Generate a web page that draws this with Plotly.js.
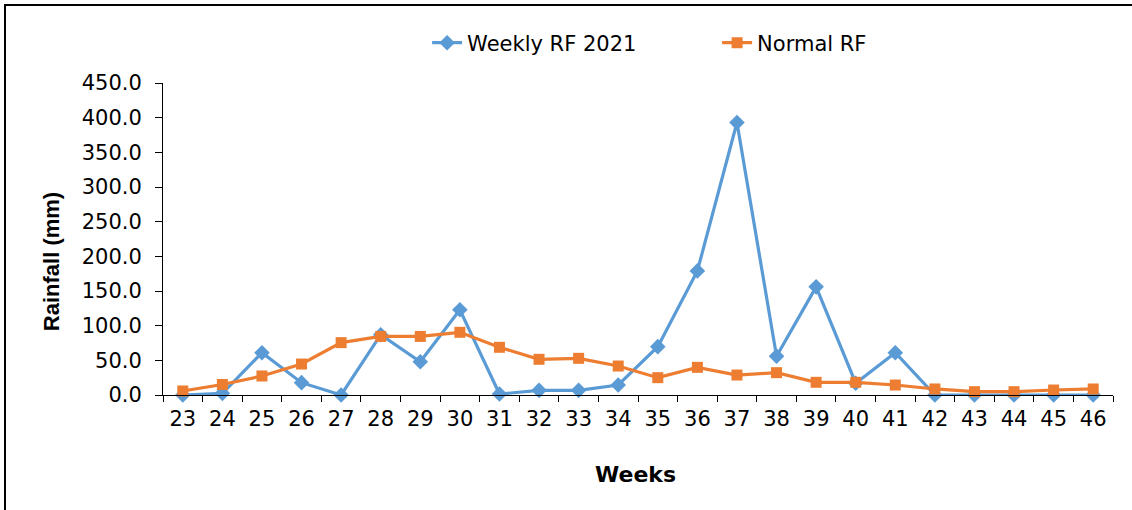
<!DOCTYPE html>
<html>
<head>
<meta charset="utf-8">
<script src="https://cdn.plot.ly/plotly-3.0.1.min.js"></script>
<style>
  html, body { margin: 0; padding: 0; background: #fff; }
  #frame { position: absolute; left: 4px; top: 4px; width: 1128px; height: 506px;
           border-top: 2px solid #000; border-left: 2px solid #000; box-sizing: border-box; pointer-events: none; }
  #chart { position: absolute; left: 0; top: 0; width: 1132px; height: 510px; }
</style>
</head>
<body>
<div id="chart"></div>
<div id="frame"></div>
<script>
const weeks = ["23","24","25","26","27","28","29","30","31","32","33","34","35","36","37","38","39","40","41","42","43","44","45","46"];
const weeklyRF2021 = [0, 2.4, 61, 17.8, 0, 87, 48, 123, 1.4, 6.7, 6.7, 14.4, 69.7, 179, 393, 56, 156, 17, 61, 0, 0, 0, 0, 0];
const normalRF = [5.8, 15.2, 27.4, 44.7, 75.5, 84.5, 84.5, 90.4, 68.8, 51.5, 52.9, 41.8, 25, 39.9, 28.8, 32.2, 18.3, 18.3, 14.4, 8.7, 4.8, 4.8, 7.2, 8.7];
const yTicks = [0, 50, 100, 150, 200, 250, 300, 350, 400, 450];
const xTitle = "Weeks";
const yTitle = "Rainfall (mm)";

const traces = [
  {
    x: weeks, y: weeklyRF2021, name: "Weekly RF 2021", type: "scatter", mode: "lines+markers",
    line: { color: "#5B9BD5", width: 3.2 },
    marker: { symbol: "diamond", size: 12, color: "#5B9BD5" },
    cliponaxis: false
  },
  {
    x: weeks, y: normalRF, name: "Normal RF", type: "scatter", mode: "lines+markers",
    line: { color: "#ED7D31", width: 3.2 },
    marker: { symbol: "square", size: 11, color: "#ED7D31" },
    cliponaxis: false
  }
];

const tickFont = { family: "DejaVu Sans, sans-serif", size: 21, color: "#000" };

const layout = {
  width: 1132, height: 510,
  margin: { l: 163, r: 19, t: 83, b: 115, autoexpand: false },
  paper_bgcolor: "#fff", plot_bgcolor: "#fff",
  font: { family: "DejaVu Sans, sans-serif", color: "#000", size: 20 },
  showlegend: true,
  legend: {
    orientation: "h", x: 0.278, xanchor: "left", y: 1.128, yanchor: "middle",
    font: { family: "DejaVu Sans, sans-serif", size: 21, color: "#000" },
    entrywidth: 245, entrywidthmode: "pixels", traceorder: "normal",
    bgcolor: "rgba(0,0,0,0)"
  },
  xaxis: {
    type: "category", range: [-0.5, 23.5], tickson: "boundaries", ticks: "outside", ticklen: 6, tickwidth: 1,
    tickcolor: "#000", showline: true, linecolor: "#000", linewidth: 1,
    showgrid: false, zeroline: false, tickfont: tickFont, ticklabelstandoff: 5,
    automargin: false
  },
  yaxis: {
    range: [0, 450], tickvals: yTicks, tickformat: ".1f", ticks: "outside", ticklen: 7,
    tickwidth: 1, tickcolor: "#000", showline: true, linecolor: "#000", linewidth: 1,
    showgrid: false, zeroline: false, tickfont: tickFont, ticklabelstandoff: 9,
    automargin: false
  },
  annotations: [
    { text: "<b>" + xTitle + "</b>", xref: "paper", yref: "paper", x: 0.497, y: -0.256,
      xanchor: "center", yanchor: "middle", showarrow: false,
      font: { family: "DejaVu Sans, sans-serif", size: 22, color: "#000" } },
    { text: "<b>" + yTitle + "</b>", xref: "paper", yref: "paper", x: -0.1178, y: 0.426,
      xanchor: "center", yanchor: "middle", showarrow: false, textangle: -90,
      font: { family: "Liberation Sans, Arial, sans-serif", size: 22, color: "#000" } }
  ]
};

Plotly.newPlot("chart", traces, layout, { displayModeBar: false, staticPlot: true });
</script>
</body>
</html>
